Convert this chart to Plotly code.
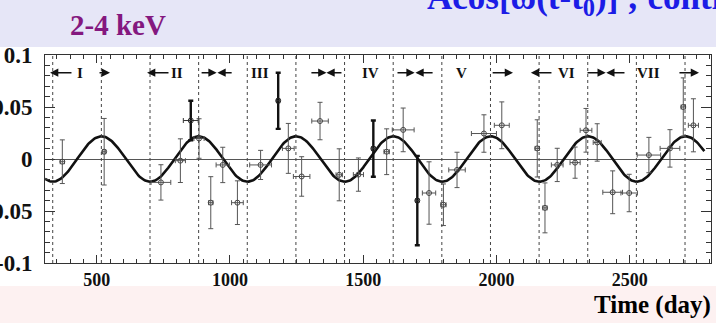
import plotly.graph_objects as go
import math

# ---- data ----
days = [371, 528, 741, 814, 884, 928, 973, 1028, 1115, 1219, 1269, 1338, 1410, 1482,
        1588, 1650, 1747, 1801, 1852, 1953, 2020, 2153, 2182, 2228, 2295, 2336, 2378,
        2436, 2498, 2572, 2651, 2701, 2739]
residual = [-0.0026, 0.007, -0.0225, -0.0016, 0.0197, -0.042, -0.0057, -0.042, -0.0057,
            0.0102, -0.0168, 0.0365, -0.0152, -0.015, 0.007, 0.028, -0.0327, -0.044,
            -0.0105, 0.0245, 0.0324, 0.0102, -0.047, -0.0057, -0.0035, 0.0276, 0.0159,
            -0.032, -0.0327, 0.0038, 0.0102, 0.050, 0.0324]
res_err = [0.021, 0.032, 0.017, 0.021, 0.019, 0.025, 0.017, 0.021, 0.014, 0.024, 0.019,
           0.018, 0.025, 0.016, 0.022, 0.021, 0.030, 0.020, 0.017, 0.018, 0.0225, 0.0275,
           0.024, 0.016, 0.015, 0.021, 0.018, 0.0206, 0.018, 0.017, 0.018, 0.028, 0.0255]
day_err = [8, 6, 37, 19, 19, 8, 25, 22, 41, 22, 31, 31, 12, 19, 10, 41, 25, 10, 31, 47,
           28, 8, 8, 22, 19, 22, 15, 37, 31, 44, 37, 8, 19]

# points drawn with heavier error bars
days_b = [853, 1181, 1538, 1703]
residual_b = [0.037, 0.056, 0.010, -0.040]
res_err_b = [0.019, 0.027, 0.027, 0.043]
day_err_b = [28, 6, 6, 6]

# fitted modulation  A cos[w (t - t0)]
amp = 0.0218
period = 365.25
t0 = 152.5
curve_start, curve_end = 306, 2780

# vertical dotted reference lines (2 June / 2 December)
ref_days = [335, 517.5, 700, 882.5, 1065, 1247.5, 1430, 1612.5, 1795, 1977.5, 2160,
            2342.5, 2525, 2707.5]

# annual cycle labels
cycle_labels = ["I", "II", "III", "IV", "V", "VI", "VII"]
cycle_label_days = [437, 801, 1113, 1526, 1867, 2261, 2569]

x_ticks = [500, 1000, 1500, 2000, 2500]
y_ticks = [-0.1, -0.05, 0, 0.05, 0.1]
y_tick_text = ["-0.1", "-0.05", "0", "0.05", "0.1"]

# ---- figure ----
n = 600
cx = [curve_start + (curve_end - curve_start) * i / (n - 1) for i in range(n)]
cy = [amp * math.cos(2 * math.pi / period * (t - t0)) for t in cx]

fig = go.Figure()

fig.add_trace(go.Scatter(x=cx, y=cy, mode="lines",
                         line=dict(color="#111111", width=2.6), hoverinfo="skip"))

fig.add_trace(go.Scatter(
    x=days, y=residual, mode="markers",
    marker=dict(symbol="circle-open", size=5, color="#444444", line=dict(width=1)),
    error_y=dict(type="data", array=res_err, color="#555555", thickness=1, width=2.5),
    error_x=dict(type="data", array=day_err, color="#555555", thickness=1, width=2.5),
))
fig.add_trace(go.Scatter(
    x=days_b, y=residual_b, mode="markers",
    marker=dict(symbol="circle-open", size=5, color="#222222", line=dict(width=1)),
    error_y=dict(type="data", array=res_err_b, color="#111111", thickness=2.4, width=2.5),
    error_x=dict(type="data", array=day_err_b, color="#333333", thickness=1, width=2.5),
))

shapes = []
# background bands
shapes.append(dict(type="rect", xref="paper", yref="paper", x0=-0.2, x1=1.2,
                   y0=1.0385, y1=1.4, fillcolor="#e6e6f7", line=dict(width=0),
                   layer="below"))
shapes.append(dict(type="rect", xref="paper", yref="paper", x0=-0.2, x1=1.2,
                   y0=-0.111, y1=-0.5, fillcolor="#fdf1f1", line=dict(width=0),
                   layer="below"))
for d in ref_days:
    shapes.append(dict(type="line", xref="x", yref="paper", x0=d, x1=d, y0=0, y1=1,
                       line=dict(color="#444444", width=1, dash="dot"), layer="above"))

ann = []
row_y = 0.083
for lab, d in zip(cycle_labels, cycle_label_days):
    ann.append(dict(x=d, y=row_y, xref="x", yref="y", text="<b>%s</b>" % lab,
                    showarrow=False,
                    font=dict(family="Liberation Serif", size=15, color="#111111"),
                    xanchor="center", yanchor="middle"))
# arrows: (tail, tip)
arrows = [(411, 325), (505, 550), (775, 689), (888, 950), (1012, 953),
          (1300, 1362), (1424, 1362), (1623, 1693), (1766, 1696), (1980, 2062),
          (2212, 2129), (2336, 2410), (2486, 2412), (2681, 2760)]
for tail, tip in arrows:
    ann.append(dict(x=tip, y=row_y, ax=tail, ay=row_y, xref="x", yref="y",
                    axref="x", ayref="y", text="", showarrow=True, arrowhead=2,
                    arrowsize=1.1, arrowwidth=1.5, arrowcolor="#111111"))

ann.append(dict(x=0.0345, y=1.142, xref="paper", yref="paper", text="<b>2-4 keV</b>",
                showarrow=False, xanchor="left", yanchor="middle",
                font=dict(family="Liberation Serif", size=29, color="#84187f")))
ann.append(dict(x=0.5706, y=1.155, xref="paper", yref="paper",
                text="<b>Acos[ω(t-t<sub>0</sub>)] ; contin</b>",
                showarrow=False, xanchor="left", yanchor="bottom",
                font=dict(family="Liberation Serif", size=35, color="#1c1ce6")))
ann.append(dict(x=1.003, y=-0.2, xref="paper", yref="paper", text="<b>Time (day)</b>",
                showarrow=False, xanchor="right", yanchor="middle",
                font=dict(family="Liberation Serif", size=25, color="#000000")))

fig.update_layout(
    width=716, height=323,
    margin=dict(l=45, r=5, t=55, b=60, pad=0),
    paper_bgcolor="white", plot_bgcolor="white",
    showlegend=False,
    shapes=shapes, annotations=ann,
    font=dict(family="Liberation Serif", color="#111111"),
)
fig.update_xaxes(
    range=[306, 2805], tickmode="array", tickvals=x_ticks,
    ticktext=["<b>%d</b>" % v for v in x_ticks],
    ticks="inside", ticklen=8, tickcolor="#333333", tickwidth=1,
    minor=dict(dtick=50, tick0=0, ticks="inside", ticklen=4, tickcolor="#333333"),
    showgrid=False, zeroline=False, showline=True, linecolor="#333333", linewidth=1,
    mirror="ticks", tickfont=dict(family="Liberation Serif", size=18, color="#111111"),
    automargin=False,
)
fig.update_yaxes(
    range=[-0.1, 0.1], tickmode="array", tickvals=y_ticks,
    ticktext=["<b>%s</b>" % t for t in y_tick_text],
    ticks="inside", ticklen=10, tickcolor="#333333", tickwidth=1,
    minor=dict(dtick=0.01, tick0=0, ticks="inside", ticklen=5, tickcolor="#333333"),
    showgrid=False, zeroline=True, zerolinecolor="#555555", zerolinewidth=1,
    showline=True, linecolor="#333333", linewidth=1, mirror="ticks",
    tickfont=dict(family="Liberation Serif", size=23, color="#111111"),
    ticklabelstandoff=7, automargin=False,
)

fig.write_html("out.html", config={"displayModeBar": False},
               post_script="document.body.style.margin='0px';document.body.style.overflow='hidden';")
